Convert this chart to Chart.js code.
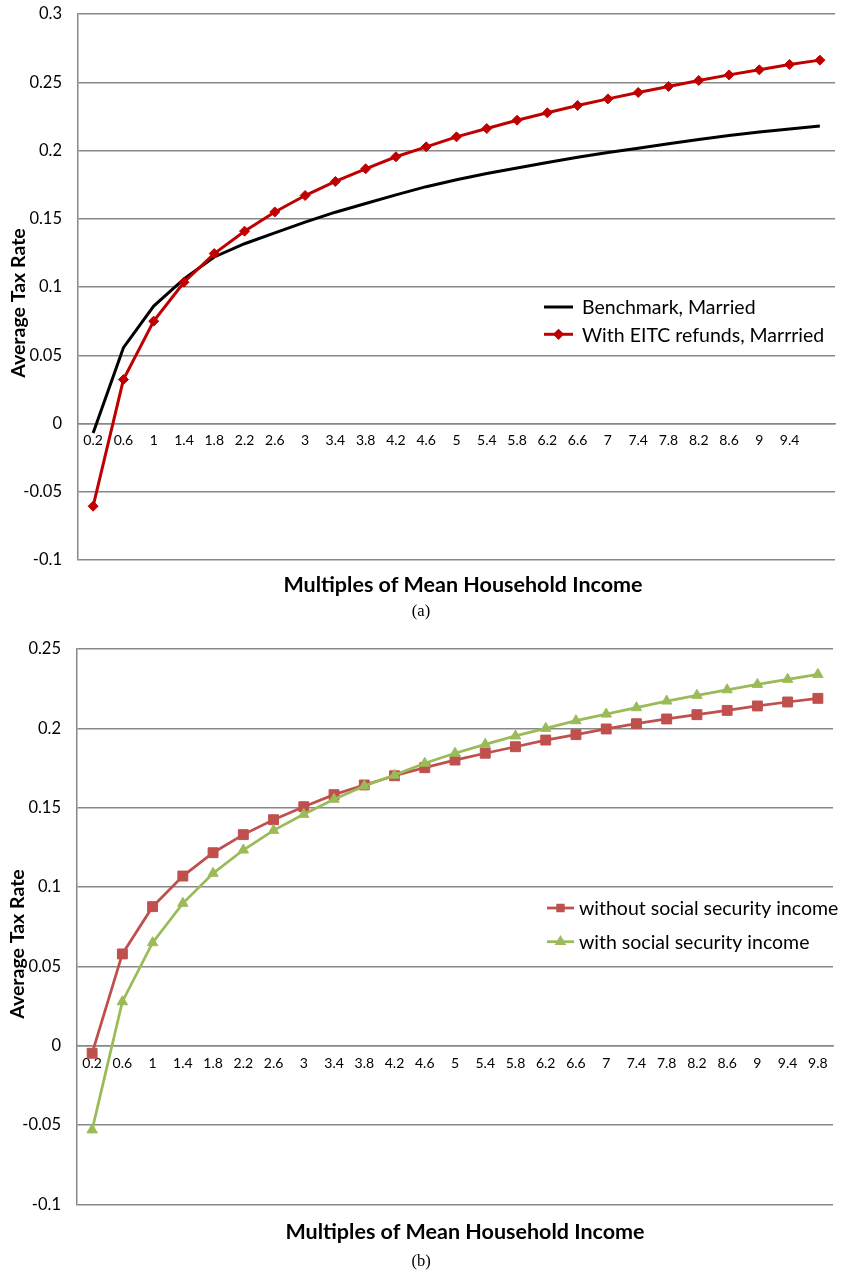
<!DOCTYPE html>
<html>
<head>
<meta charset="utf-8">
<script src="https://cdn.jsdelivr.net/npm/chart.js@4.4.1/dist/chart.umd.min.js"></script>
<style>
  html, body { margin: 0; padding: 0; background: #fff; }
  canvas { display: block; }
</style>
</head>
<body>
<canvas id="chartA" width="841" height="625"></canvas>
<canvas id="chartB" width="841" height="648"></canvas>
<script>
// Income levels as multiples of mean household income
const incomeMultiples = ['0.2','0.6','1','1.4','1.8','2.2','2.6','3','3.4','3.8','4.2','4.6','5',
  '5.4','5.8','6.2','6.6','7','7.4','7.8','8.2','8.6','9','9.4','9.8'];
// Panel (a) prints labels only up to 9.4
const tickLabelsA = ['0.2','0.6','1','1.4','1.8','2.2','2.6','3','3.4','3.8','4.2','4.6','5',
  '5.4','5.8','6.2','6.6','7','7.4','7.8','8.2','8.6','9','9.4'];

// Panel (a): average tax rates, married households
const benchmarkMarried = [-0.007, 0.0555, 0.086, 0.106, 0.122, 0.1317, 0.1397, 0.1475, 0.1548, 0.1612,
  0.1675, 0.1735, 0.1786, 0.1831, 0.1872, 0.1912, 0.195, 0.1986, 0.2017, 0.2049, 0.2081, 0.211, 0.2135, 0.2158, 0.218];
const eitcMarried = [-0.0606, 0.0322, 0.075, 0.1035, 0.1245, 0.1409, 0.155, 0.167, 0.1773, 0.1866,
  0.1954, 0.2027, 0.210, 0.2161, 0.2222, 0.2276, 0.233, 0.2378, 0.2425, 0.2469, 0.2513, 0.2554, 0.2591, 0.263, 0.2662];

// Panel (b): average tax rates with and without social security income
const withoutSocialSecurity = [-0.0048, 0.0578, 0.0876, 0.1069, 0.1216, 0.133, 0.1424, 0.1506, 0.1582, 0.1643,
  0.1701, 0.1752, 0.180, 0.1843, 0.1884, 0.1926, 0.196, 0.1996, 0.2029, 0.2059, 0.2086, 0.2113, 0.2141, 0.2166, 0.2189];
const withSocialSecurity = [-0.0531, 0.0277, 0.0649, 0.0897, 0.1086, 0.1233, 0.1357, 0.1458, 0.1553, 0.1636,
  0.1705, 0.178, 0.1843, 0.1899, 0.1952, 0.200, 0.2048, 0.209, 0.213, 0.2172, 0.2208, 0.2243, 0.2277, 0.2309, 0.234];

const FONT = 'Lato, "Open Sans", sans-serif';
const GRID = '#888888';

// Axis titles, caption and an inline legend (line sample with a marker in the middle)
const decor = {
  id: 'decor',
  afterDraw(chart, args, o) {
    const ctx = chart.ctx;
    ctx.save();
    ctx.fillStyle = '#000';
    // vertical axis title
    ctx.save();
    ctx.font = `bold ${o.yTitleSize}px ${FONT}`;
    ctx.translate(o.yTitleX, o.yTitleY);
    ctx.rotate(-Math.PI / 2);
    ctx.textAlign = 'center';
    ctx.textBaseline = 'middle';
    ctx.fillText(o.yTitle, 0, 0);
    ctx.restore();
    // horizontal axis title
    ctx.font = `bold ${o.xTitleSize}px ${FONT}`;
    ctx.textAlign = 'center';
    ctx.textBaseline = 'middle';
    ctx.fillText(o.xTitle, o.xTitleX, o.xTitleY);
    // panel caption
    ctx.font = `${o.captionSize}px "Liberation Serif", "DejaVu Serif", serif`;
    ctx.fillText(o.caption, o.captionX, o.captionY);
    // legend
    ctx.font = `${o.legendSize}px ${FONT}`;
    ctx.textAlign = 'left';
    chart.data.datasets.forEach((ds, i) => {
      const y = o.legendY + i * o.legendDy;
      ctx.strokeStyle = ds.borderColor;
      ctx.lineWidth = ds.borderWidth;
      ctx.beginPath();
      ctx.moveTo(o.legendX, y);
      ctx.lineTo(o.legendX + o.legendLine, y);
      ctx.stroke();
      if (ds.pointRadius > 0) {
        ctx.fillStyle = ds.pointBackgroundColor;
        ctx.strokeStyle = ds.borderColor;
        Chart.helpers.drawPoint(ctx, {pointStyle: ds.pointStyle, radius: o.legendMarker, rotation: 0, borderWidth: 1},
          o.legendX + o.legendLine / 2, y);
      }
      ctx.fillStyle = '#000';
      ctx.fillText(ds.label, o.legendTextX, y + 1);
    });
    ctx.restore();
  }
};

function fmtTick(v) {
  return String(Math.round(v * 100) / 100);
}

function makeOptions(cfg) {
  return {
    responsive: false,
    animation: false,
    layout: { padding: { top: cfg.padTop, right: cfg.padRight, bottom: cfg.padBottom, left: 0 } },
    plugins: {
      legend: { display: false },
      tooltip: { enabled: false },
      decor: cfg.decor
    },
    scales: {
      x: {
        type: 'category',
        offset: true,
        position: { y: 0 },
        grid: { display: false, drawTicks: false },
        border: { display: true, color: GRID, width: 1.5 },
        ticks: {
          autoSkip: false, maxRotation: 0, padding: 9, color: '#000',
          font: { family: FONT, size: 14 },
          callback: cfg.xTick
        }
      },
      y: {
        min: cfg.min, max: cfg.max,
        // fixed axis width; the layout padding already leaves room for the end labels
        afterFit: s => { s.width = cfg.axisLeft; s.paddingTop = 0; s.paddingBottom = 0; },
        grid: { color: GRID, lineWidth: 1.5, drawTicks: false },
        border: { display: true, color: GRID, width: 1.5 },
        ticks: {
          stepSize: 0.05, padding: 16, color: '#000',
          font: { family: FONT, size: 16.5 },
          callback: fmtTick
        }
      }
    }
  };
}

new Chart(document.getElementById('chartA'), {
  type: 'line',
  data: {
    labels: incomeMultiples,
    datasets: [
      {
        label: 'Benchmark, Married', data: benchmarkMarried,
        borderColor: '#000000', backgroundColor: '#000000', pointBackgroundColor: '#000000',
        borderWidth: 3, pointRadius: 0, tension: 0, order: 2
      },
      {
        label: 'With EITC refunds, Marrried', data: eitcMarried,
        borderColor: '#C00000', backgroundColor: '#C00000', pointBackgroundColor: '#C00000',
        pointBorderColor: '#C00000', borderWidth: 3, pointStyle: 'rectRot', pointRadius: 5,
        pointBorderWidth: 1, tension: 0, order: 1
      }
    ]
  },
  options: makeOptions({
    min: -0.1, max: 0.3, axisLeft: 78, padTop: 14, padRight: 3, padBottom: 65,
    xTick: (v, i) => (i < tickLabelsA.length ? tickLabelsA[i] : ''),
    decor: {
      yTitle: 'Average Tax Rate', yTitleSize: 19.5, yTitleX: 18.5, yTitleY: 303,
      xTitle: 'Multiples of Mean Household Income', xTitleSize: 21.5, xTitleX: 463, xTitleY: 585,
      caption: '(a)', captionSize: 16.5, captionX: 421, captionY: 612,
      legendSize: 19.5, legendX: 544, legendLine: 29, legendTextX: 582, legendY: 307, legendDy: 27.3,
      legendMarker: 3.5
    }
  }),
  plugins: [decor]
});

new Chart(document.getElementById('chartB'), {
  type: 'line',
  data: {
    labels: incomeMultiples,
    datasets: [
      {
        label: 'without social security income', data: withoutSocialSecurity,
        borderColor: '#C0504D', backgroundColor: '#C0504D', pointBackgroundColor: '#C0504D',
        pointBorderColor: '#C0504D', borderWidth: 2.75, pointStyle: 'rect', pointRadius: 7,
        pointBorderWidth: 1, tension: 0, order: 2
      },
      {
        label: 'with social security income', data: withSocialSecurity,
        borderColor: '#9BBB59', backgroundColor: '#9BBB59', pointBackgroundColor: '#9BBB59',
        pointBorderColor: '#9BBB59', borderWidth: 2.75, pointStyle: 'triangle', pointRadius: 6,
        pointBorderWidth: 1, tension: 0, order: 1
      }
    ]
  },
  options: makeOptions({
    min: -0.1, max: 0.25, axisLeft: 77, padTop: 24, padRight: 2, padBottom: 68.7,
    xTick: (v, i) => incomeMultiples[i],
    decor: {
      yTitle: 'Average Tax Rate', yTitleSize: 19.5, yTitleX: 18, yTitleY: 319,
      xTitle: 'Multiples of Mean Household Income', xTitleSize: 21.5, xTitleX: 465, xTitleY: 606.7,
      caption: '(b)', captionSize: 16.5, captionX: 421, captionY: 636.7,
      legendSize: 19.5, legendX: 547, legendLine: 27, legendTextX: 579, legendY: 283, legendDy: 33.7,
      legendMarker: 4
    }
  }),
  plugins: [decor]
});
</script>
</body>
</html>
